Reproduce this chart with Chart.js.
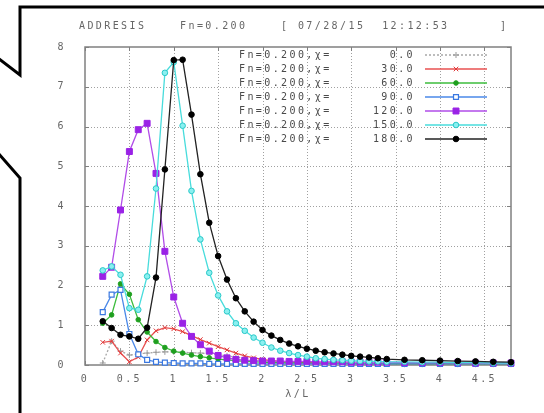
<!DOCTYPE html>
<html><head><meta charset="utf-8">
<script src="https://cdn.jsdelivr.net/npm/chart.js@4/dist/chart.umd.min.js"></script>
<style>html,body{margin:0;padding:0;background:#fff;}canvas{display:block}</style>
</head><body>
<canvas id="c" width="544" height="413"></canvas>
<script>
// λ/L sample points
const xValues = [0.2,0.3,0.4,0.5,0.6,0.7,0.8,0.9,1.0,1.1,1.2,1.3,1.4,1.5,1.6,1.7,1.8,1.9,2.0,2.1,2.2,2.3,2.4,2.5,2.6,2.7,2.8,2.9,3.0,3.1,3.2,3.3,3.4,3.6,3.8,4.0,4.2,4.4,4.6,4.8];
const chi0   = [0.05,0.60,0.35,0.25,0.28,0.30,0.32,0.33,0.33,0.32,0.31,0.30,0.28,0.26,0.23,0.20,0.17,0.14,0.12,0.10,0.08,0.07,0.06,0.05,0.05,0.04,0.04,0.04,0.03,0.03,0.03,0.03,0.03,0.02,0.02,0.02,0.02,0.02,0.02,0.02];
const chi30  = [0.57,0.60,0.30,0.08,0.20,0.63,0.86,0.94,0.91,0.84,0.74,0.64,0.55,0.46,0.38,0.30,0.23,0.18,0.14,0.11,0.09,0.08,0.07,0.06,0.06,0.05,0.05,0.05,0.04,0.04,0.04,0.04,0.04,0.03,0.03,0.03,0.03,0.03,0.03,0.03];
const chi60  = [1.05,1.26,2.04,1.78,1.14,0.83,0.59,0.44,0.35,0.30,0.25,0.21,0.18,0.15,0.13,0.11,0.09,0.08,0.07,0.06,0.06,0.05,0.05,0.05,0.04,0.04,0.04,0.04,0.04,0.03,0.03,0.03,0.03,0.03,0.03,0.03,0.03,0.03,0.03,0.03];
const chi90  = [1.33,1.77,1.89,0.78,0.27,0.13,0.08,0.06,0.05,0.04,0.04,0.04,0.03,0.03,0.03,0.03,0.03,0.03,0.03,0.03,0.03,0.03,0.03,0.03,0.03,0.03,0.03,0.03,0.03,0.03,0.03,0.03,0.03,0.03,0.03,0.03,0.03,0.03,0.03,0.03];
const chi120 = [2.23,2.46,3.90,5.37,5.92,6.08,4.82,2.86,1.71,1.05,0.72,0.51,0.35,0.24,0.18,0.14,0.12,0.11,0.10,0.10,0.10,0.09,0.09,0.09,0.08,0.08,0.08,0.08,0.07,0.07,0.07,0.07,0.07,0.06,0.06,0.06,0.06,0.05,0.05,0.05];
const chi150 = [2.38,2.48,2.27,1.43,1.39,2.23,4.44,7.35,7.62,6.02,4.38,3.16,2.32,1.75,1.35,1.05,0.86,0.69,0.56,0.44,0.36,0.30,0.25,0.21,0.17,0.15,0.13,0.12,0.11,0.10,0.09,0.09,0.08,0.08,0.07,0.07,0.06,0.06,0.05,0.05];
const chi180 = [1.10,0.93,0.76,0.72,0.66,0.94,2.20,4.92,7.67,7.68,6.30,4.80,3.58,2.74,2.15,1.68,1.35,1.09,0.88,0.74,0.63,0.54,0.47,0.41,0.36,0.32,0.29,0.26,0.23,0.21,0.19,0.17,0.15,0.13,0.12,0.11,0.10,0.09,0.08,0.07];

const xTicks = [0,0.5,1,1.5,2,2.5,3,3.5,4,4.5];
const xTickLabels = ['0','0.5','1','1.5','2','2.5','3','3.5','4','4.5'];
const yTicks = [0,1,2,3,4,5,6,7,8];
const yTickLabels = ['0','1','2','3','4','5','6','7','8'];
const legendPrefix = 'Fn=0.200,χ=';
const legendNumbers = ['0.0','30.0','60.0','90.0','120.0','150.0','180.0'];
const titleText = 'ADDRESIS    Fn=0.200    [ 07/28/15  12:12:53      ]';
const xAxisTitle = 'λ/L';

const seriesValues = [chi0, chi30, chi60, chi90, chi120, chi150, chi180];
const styles = [
  {line:'#a8a8a8', dash:[2,2], ps:'cross',   r:3,   fill:'#999', bc:'#999', bw:1},
  {line:'#e85050', dash:[],    ps:'crossRot',r:3.2, fill:'#e03a3a', bc:'#e03a3a', bw:1},
  {line:'#3cbc3c', dash:[],    ps:'circle',  r:2.3, fill:'#1f9f1f', bc:'#1f9f1f', bw:1},
  {line:'#4a88e8', dash:[],    ps:'rect',    r:3.5, fill:'#ffffff', bc:'#3a78e0', bw:1.2},
  {line:'#b14ce8', dash:[],    ps:'rect',    r:4.2, fill:'#9a22e6', bc:'#9a22e6', bw:1},
  {line:'#48dcdc', dash:[],    ps:'circle',  r:2.8, fill:'#8af0f0', bc:'#2ac8c8', bw:1},
  {line:'#222222', dash:[],    ps:'circle',  r:2.8, fill:'#000000', bc:'#000000', bw:1}
];

const datasets = seriesValues.map((vals, i) => ({
  label: legendPrefix + legendNumbers[i],
  data: vals.map((v, j) => ({x: xValues[j], y: v})),
  borderColor: styles[i].line,
  borderDash: styles[i].dash,
  borderWidth: 1.3,
  pointStyle: styles[i].ps,
  pointRadius: styles[i].r,
  pointBackgroundColor: styles[i].fill,
  pointBorderColor: styles[i].bc,
  pointBorderWidth: styles[i].bw,
  tension: 0,
  clip: false,
  order: 6 - i
}));

const FONT = '10px "DejaVu Sans Mono", monospace';
const SPACING = '2.4px';

const decor = {
  id: 'decor',
  beforeDraw(chart) {
    chart.ctx.letterSpacing = SPACING;
  },
  beforeDatasetsDraw(chart) {
    const {ctx, chartArea: a, scales: {x, y}} = chart;
    ctx.save();
    ctx.strokeStyle = '#a0a0a0';
    ctx.lineWidth = 1;
    ctx.setLineDash([1, 2]);
    ctx.beginPath();
    xTicks.forEach(v => {
      if (v <= 0) return;
      const px = Math.round(x.getPixelForValue(v)) + 0.5;
      ctx.moveTo(px, a.top); ctx.lineTo(px, a.bottom);
    });
    yTicks.forEach(v => {
      if (v <= 0 || v >= 8) return;
      const py = Math.round(y.getPixelForValue(v)) + 0.5;
      ctx.moveTo(a.left, py); ctx.lineTo(a.right, py);
    });
    ctx.stroke();
    ctx.setLineDash([]);
    ctx.strokeStyle = '#808080';
    ctx.lineWidth = 1.5;
    ctx.strokeRect(a.left, a.top, a.right - a.left, a.bottom - a.top);
    ctx.lineWidth = 1;
    ctx.beginPath();
    xTicks.forEach(v => {
      const px = Math.round(x.getPixelForValue(v)) + 0.5;
      ctx.moveTo(px, a.bottom); ctx.lineTo(px, a.bottom - 4);
      ctx.moveTo(px, a.top); ctx.lineTo(px, a.top + 4);
    });
    yTicks.forEach(v => {
      const py = Math.round(y.getPixelForValue(v)) + 0.5;
      ctx.moveTo(a.left, py); ctx.lineTo(a.left + 4, py);
      ctx.moveTo(a.right, py); ctx.lineTo(a.right - 4, py);
    });
    ctx.stroke();
    ctx.restore();
  },
  afterDraw(chart) {
    const ctx = chart.ctx;
    ctx.save();
    ctx.letterSpacing = SPACING;
    ctx.font = FONT;
    ctx.fillStyle = '#666';
    ctx.textBaseline = 'middle';
    ctx.textAlign = 'left';
    ctx.fillText(titleText, 79, 26);
    const rowY = [55, 69, 83, 97, 111, 125, 139];
    chart.data.datasets.forEach((ds, i) => {
      const yy = rowY[i];
      ctx.fillStyle = '#4a4a4a';
      ctx.textAlign = 'left';
      ctx.fillText(legendPrefix, 239, yy);
      ctx.textAlign = 'right';
      ctx.fillText(legendNumbers[i], 415, yy);
      ctx.save();
      ctx.strokeStyle = ds.borderColor;
      ctx.lineWidth = 1.3;
      ctx.setLineDash(ds.borderDash);
      ctx.beginPath(); ctx.moveTo(425, yy); ctx.lineTo(487, yy); ctx.stroke();
      ctx.setLineDash([]);
      ctx.fillStyle = ds.pointBackgroundColor;
      ctx.strokeStyle = ds.pointBorderColor;
      ctx.lineWidth = ds.pointBorderWidth;
      Chart.helpers.drawPoint(ctx, {pointStyle: ds.pointStyle, radius: ds.pointRadius, rotation: 0, borderWidth: ds.pointBorderWidth}, 456, yy);
      ctx.restore();
    });
    ctx.strokeStyle = '#000';
    ctx.lineWidth = 3;
    ctx.lineJoin = 'miter';
    ctx.beginPath();
    ctx.moveTo(546, 7); ctx.lineTo(20, 7); ctx.lineTo(20, 75); ctx.lineTo(-2, 58);
    ctx.moveTo(-2, 153); ctx.lineTo(20, 178); ctx.lineTo(20, 416);
    ctx.stroke();
    ctx.restore();
  }
};

new Chart(document.getElementById('c'), {
  type: 'line',
  data: {datasets},
  plugins: [decor],
  options: {
    responsive: false,
    animation: false,
    devicePixelRatio: 1,
    layout: {padding: {top: 47, right: 33, left: 0, bottom: 0}},
    plugins: {legend: {display: false}, title: {display: false}, tooltip: {enabled: false}},
    scales: {
      x: {
        type: 'linear', min: 0, max: 4.8,
        afterBuildTicks: s => { s.ticks = xTicks.map(v => ({value: v})); },
        afterFit: s => { s.height = 48; },
        ticks: {
          autoSkip: false, maxRotation: 0, padding: 8, color: '#666',
          font: {family: '"DejaVu Sans Mono", monospace', size: 10},
          callback: (v) => { const k = xTicks.indexOf(v); return k >= 0 ? xTickLabels[k] : ''; }
        },
        grid: {display: false, drawTicks: false},
        border: {display: false},
        title: {display: true, text: xAxisTitle, color: '#666', padding: {top: 0, bottom: 13},
                font: {family: '"DejaVu Sans Mono", monospace', size: 10}}
      },
      y: {
        type: 'linear', min: 0, max: 8,
        afterBuildTicks: s => { s.ticks = yTicks.map(v => ({value: v})); },
        afterFit: s => { s.width = 85; },
        ticks: {
          padding: 19, color: '#666',
          font: {family: '"DejaVu Sans Mono", monospace', size: 10},
          callback: (v) => { const k = yTicks.indexOf(v); return k >= 0 ? yTickLabels[k] : ''; }
        },
        grid: {display: false, drawTicks: false},
        border: {display: false}
      }
    }
  }
});
</script>
</body></html>
